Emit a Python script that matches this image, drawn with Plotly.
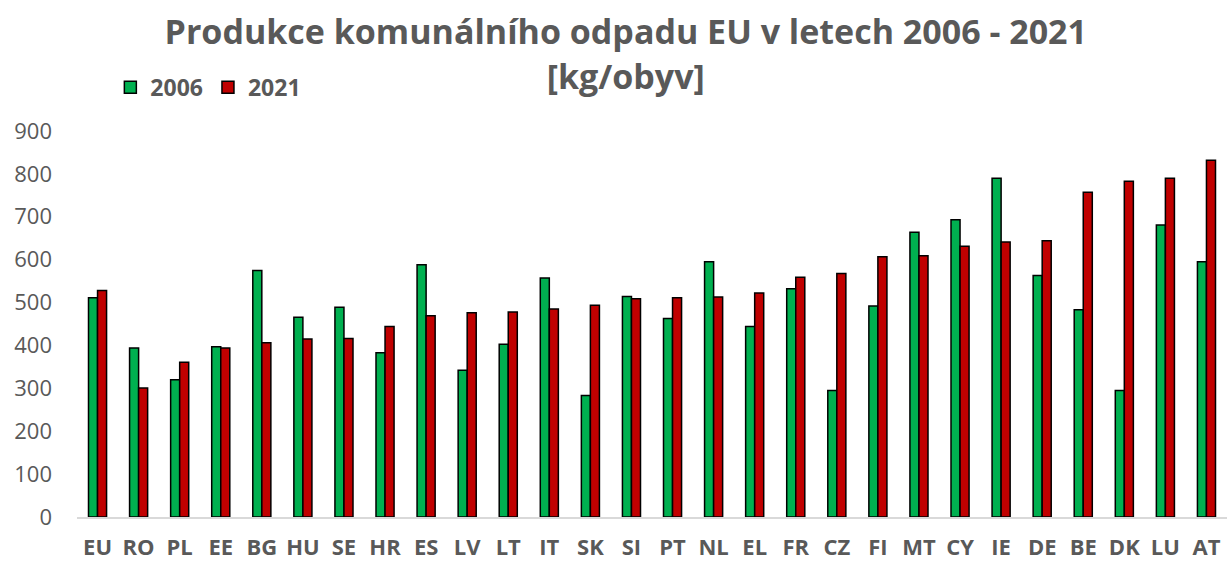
import plotly.graph_objects as go

# Municipal waste per capita, kg/person
countries = ["EU", "RO", "PL", "EE", "BG", "HU", "SE", "HR", "ES", "LV", "LT", "IT",
             "SK", "SI", "PT", "NL", "EL", "FR", "CZ", "FI", "MT", "CY", "IE", "DE",
             "BE", "DK", "LU", "AT"]
waste_2006 = [511, 394, 320, 397, 575, 466, 489, 383, 588, 342, 403, 557,
              283, 514, 463, 595, 444, 532, 295, 492, 664, 693, 790, 563,
              483, 295, 681, 595]
waste_2021 = [528, 301, 361, 394, 406, 415, 416, 444, 469, 476, 478, 485,
              494, 509, 511, 513, 522, 559, 568, 607, 609, 631, 641, 644,
              757, 783, 790, 832]
y_ticks = [0, 100, 200, 300, 400, 500, 600, 700, 800, 900]

TEXT = "#595959"
FONT = "Open Sans"

fig = go.Figure()
fig.add_trace(go.Bar(
    x=countries, y=waste_2006, name="2006",
    marker={"color": "#00B050", "line": {"color": "black", "width": 1.5}},
))
fig.add_trace(go.Bar(
    x=countries, y=waste_2021, name="2021",
    marker={"color": "#C00000", "line": {"color": "black", "width": 1.5}},
))

fig.update_layout(
    width=1227, height=561,
    barmode="group", bargap=0.56, bargroupgap=0,
    title={
        "text": "<b>Produkce komunálního odpadu EU v letech 2006 - 2021<br>[kg/obyv]</b>",
        "x": 0.51, "xanchor": "center", "y": 0.921, "yanchor": "middle",
        "font": {"family": FONT, "size": 34, "color": TEXT},
    },
    legend={
        "orientation": "h", "x": 0.029, "y": 1.113, "xanchor": "left", "yanchor": "middle",
        "font": {"family": FONT, "size": 23, "color": TEXT, "weight": "bold"},
        "itemwidth": 30, "traceorder": "normal",
    },
    xaxis={
        "showline": True, "linecolor": "#D9D9D9", "linewidth": 2,
        "showgrid": False, "ticks": "", "automargin": False,
        "tickfont": {"family": FONT, "size": 22, "color": TEXT, "weight": "bold"},
        "ticklabelstandoff": 10,
    },
    yaxis={
        "range": [0, 900], "tickvals": y_ticks, "showgrid": False, "zeroline": False,
        "showline": False, "ticks": "", "automargin": False,
        "tickfont": {"family": FONT, "size": 22, "color": TEXT},
        "ticklabelstandoff": 24,
    },
    margin={"l": 77, "r": 0, "t": 131, "b": 44, "autoexpand": False},
    plot_bgcolor="white",
    paper_bgcolor="white",
)

fig.write_html(
    "out.html",
    config={"displayModeBar": False},
    post_script="document.body.style.margin = '0';",
)
